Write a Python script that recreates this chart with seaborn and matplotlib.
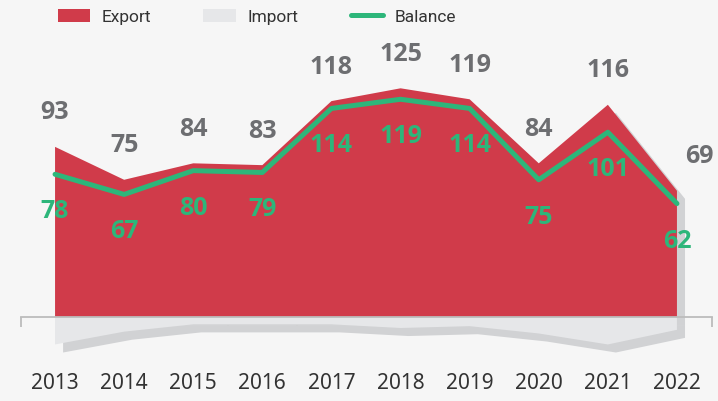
import seaborn as sns
import matplotlib.pyplot as plt
import matplotlib.patheffects as pe
from matplotlib.patches import Patch
from matplotlib.lines import Line2D
import pandas as pd

years = ['2013', '2014', '2015', '2016', '2017', '2018', '2019', '2020', '2021', '2022']
export = [93, 75, 84, 83, 118, 125, 119, 84, 116, 69]
imports = [15, 8, 4, 4, 4, 6, 5, 9, 15, 7]
balance = [78, 67, 80, 79, 114, 119, 114, 75, 101, 62]

RED = '#d03b4a'
GREEN = '#2db67a'
IMPORT_GREY = '#e6e7e9'
SHADOW = '#d1d2d4'
BG = '#f6f6f6'
LABEL_GREY = '#6d6e71'

sns.set_theme(style='white')
plt.rcParams['font.family'] = ['Noto Sans', 'DejaVu Sans']

df = pd.DataFrame({'year': years, 'export': export,
                   'import': [-v for v in imports], 'balance': balance})
df['pos'] = range(len(df))

fig = plt.figure(figsize=(7.18, 4.01), dpi=100, facecolor=BG)
ax = fig.add_axes([20.5 / 718, 41 / 401, 691 / 718, 320 / 401])
ax.set_facecolor(BG)

shadow = [pe.SimplePatchShadow(offset=(5.8, -5.8), shadow_rgbFace=SHADOW, alpha=1.0), pe.Normal()]

exp_fill = ax.fill_between(df['pos'], 0, df['export'], color=RED, lw=0, zorder=2)
exp_fill.set_path_effects(shadow)
imp_fill = ax.fill_between(df['pos'], 0, df['import'], color=IMPORT_GREY, lw=0, zorder=2.5)
imp_fill.set_path_effects(shadow)

sns.lineplot(data=df, x='pos', y='balance', color=GREEN, lw=3.6, ax=ax, zorder=4)

# value labels
label_font = dict(family=['Open Sans', 'DejaVu Sans'], fontsize=18, fontweight='bold')
for i, row in df.iterrows():
    dx = 16.5 if i == len(df) - 1 else 0
    ax.annotate(str(row['export']), (row['pos'], row['export']), xytext=(dx, 24.5),
                textcoords='offset points', ha='center', va='center',
                color=LABEL_GREY, zorder=5, **label_font)
    ax.annotate(str(row['balance']), (row['pos'], row['balance']), xytext=(0, -27),
                textcoords='offset points', ha='center', va='center',
                color=GREEN, zorder=5, **label_font)

ax.set_xlim(-0.5, len(years) - 0.5)
ax.set_ylim(-23.5, 151.4)
ax.set_xlabel('')
ax.set_ylabel('')
ax.set_yticks([])

for s in ['top', 'right', 'left']:
    ax.spines[s].set_visible(False)
ax.spines['bottom'].set_position(('data', 0))
ax.spines['bottom'].set_color('#bcbcbc')
ax.spines['bottom'].set_linewidth(1.3)
ax.spines['bottom'].set_zorder(3)

ax.set_xticks(df['pos'])
ax.set_xticklabels(years)
ax.set_xticks([p - 0.5 for p in range(len(years) + 1)], minor=True)
ax.tick_params(axis='x', which='major', length=0, pad=40, labelsize=15, labelcolor='#333333')
ax.tick_params(axis='x', which='minor', length=7, width=1.3, color='#bcbcbc', direction='out', bottom=True)

handles = [Patch(facecolor=RED, edgecolor='none', label='Export'),
           Patch(facecolor=IMPORT_GREY, edgecolor='none', label='Import'),
           Line2D([], [], color=GREEN, lw=3.6, label='Balance')]
fig.legend(handles=handles, loc='center left', bbox_to_anchor=(42 / 718, 1 - 17 / 401),
           ncol=3, frameon=False, prop=dict(family=['Roboto', 'DejaVu Sans'], size=12.5),
           handlelength=1.85, handleheight=0.8, handletextpad=0.7, columnspacing=3.0,
           labelcolor='#333333')

fig.savefig('out.png', dpi=100, facecolor=BG)
